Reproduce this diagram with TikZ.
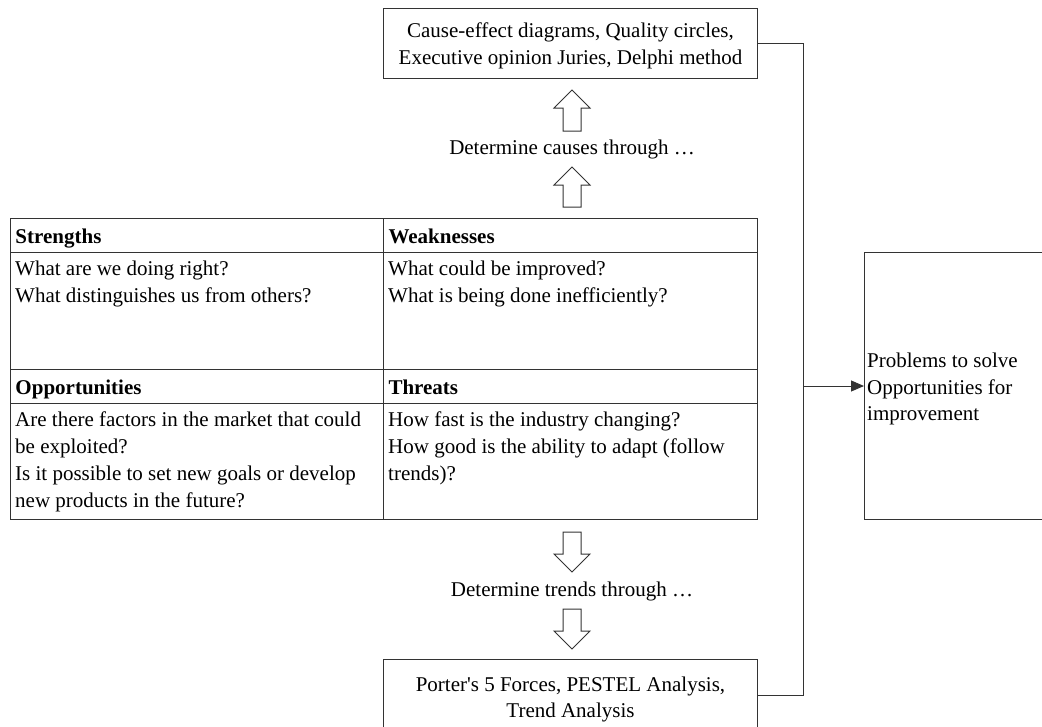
\documentclass[tikz,border=0pt]{standalone}
\usepackage{fontspec}
\setmainfont{Liberation Serif}[Ligatures=TeXOff]
\usetikzlibrary{arrows.meta}
\begin{document}
\begin{tikzpicture}[x=1pt,y=-1pt,
  every node/.style={font=\fontsize{21}{26.7}\selectfont},
  line/.style={draw=black!80, line width=1pt},
  box/.style={line, rectangle, inner sep=0pt, anchor=north west},
  headcell/.style={box, align=left, inner xsep=5pt, text height=20pt, text depth=4pt},
  txt/.style={anchor=north west, align=left, inner xsep=5pt, inner ysep=0pt},
  ctxt/.style={align=center, inner sep=0pt},
  blockarrow/.style={line, fill=white},
  conn/.style={draw=black!80, line width=1pt}
]
\useasboundingbox (0,0) rectangle (1042,726);

% top box
\node[box, minimum width=374pt, minimum height=70pt] (cause) at (383,8) {};
\node[ctxt] (causetxt) at ([yshift=-2.5pt]cause.center)
  {Cause-effect diagrams, Quality circles,\\Executive opinion Juries, Delphi method};

% up arrows
\draw[blockarrow] (563,131) -- (563,108) -- (554,108) -- (572,90) -- (590,108) -- (581,108) -- (581,131) -- cycle;
\node (causes) at (572,149) {Determine causes through \dots};
\draw[blockarrow] (563,207) -- (563,185) -- (554,185) -- (572,167) -- (590,185) -- (581,185) -- (581,207) -- cycle;

% SWOT table
\node[headcell, minimum width=373pt, minimum height=34pt, text width=363pt] (sh) at (10,218) {\textbf{Strengths}};
\node[headcell, minimum width=374pt, minimum height=34pt, text width=364pt] (wh) at (383,218) {\textbf{Weaknesses}};
\node[box, minimum width=373pt, minimum height=117pt] (sb) at (10,252) {};
\node[box, minimum width=374pt, minimum height=117pt] (wb) at (383,252) {};
\node[headcell, minimum width=373pt, minimum height=34pt, text width=363pt] (oh) at (10,369) {\textbf{Opportunities}};
\node[headcell, minimum width=374pt, minimum height=34pt, text width=364pt] (th) at (383,369) {\textbf{Threats}};
\node[box, minimum width=373pt, minimum height=116pt] (ob) at (10,403) {};
\node[box, minimum width=374pt, minimum height=116pt] (tb) at (383,403) {};

\node[txt] (st) at ([yshift=-9pt]sb.north west) {What are we doing right?\\What distinguishes us from others?};
\node[txt] (wt) at ([yshift=-9pt]wb.north west) {What could be improved?\\What is being done inefficiently?};
\node[txt] (ot) at ([yshift=-9pt]ob.north west) {Are there factors in the market that could\\be exploited?\\Is it possible to set new goals or develop\\new products in the future?};
\node[txt] (tt) at ([yshift=-9pt]tb.north west) {How fast is the industry changing?\\How good is the ability to adapt (follow\\trends)?};

% down arrows
\draw[blockarrow] (563,532) -- (563,554) -- (554,554) -- (572,572) -- (590,554) -- (581,554) -- (581,532) -- cycle;
\node (trends) at (572,591) {Determine trends through \dots};
\draw[blockarrow] (563,609) -- (563,631) -- (554,631) -- (572,649) -- (590,631) -- (581,631) -- (581,609) -- cycle;

% bottom box
\node[box, minimum width=374pt, minimum height=72pt] (porter) at (383,659) {};
\node[ctxt] (portertxt) at ([yshift=-4pt]porter.center)
  {Porter's 5 Forces, PESTEL Analysis,\\Trend Analysis};

% right box
\node[box, minimum width=240pt, minimum height=267pt] (prob) at (864,252) {};
\node[anchor=west, align=left, inner xsep=3pt, inner ysep=0pt] (probtxt) at ([yshift=-3pt]prob.west)
  {Problems to solve\\Opportunities for\\improvement};

% connectors
\coordinate (bus) at (803,0);
\draw[conn] (cause.east) -- (cause.east -| bus) -- (porter.east -| bus) -- (porter.east);
\draw[conn, -{Triangle[length=13pt,width=11pt]}] (bus |- prob.west) -- (prob.west);
\end{tikzpicture}
\end{document}
